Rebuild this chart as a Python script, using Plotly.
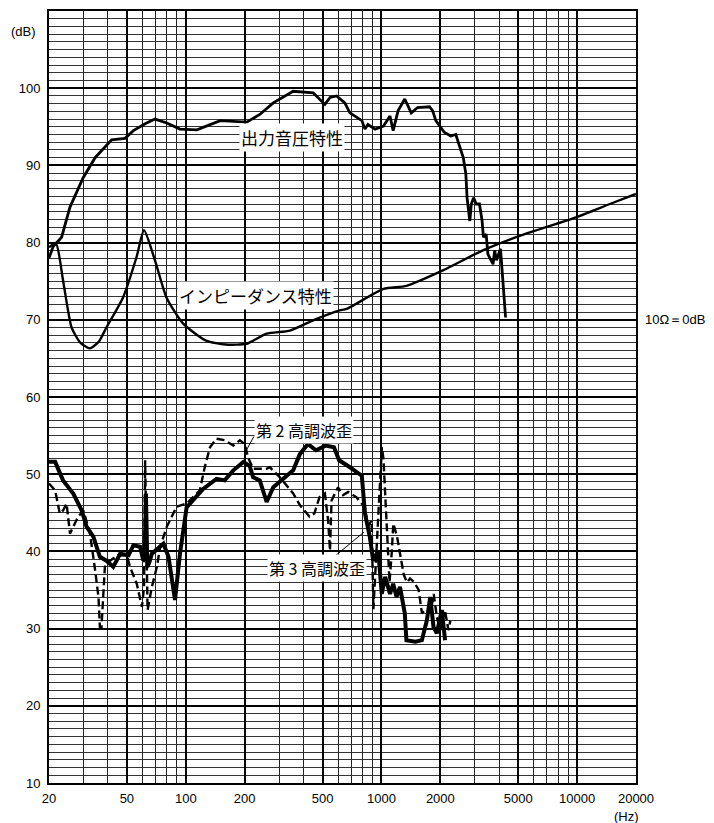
import math
import plotly.graph_objects as go

# ---------------- data ----------------
spl_f = [20, 21, 23.2, 25.6, 29.9, 34.4, 41.8, 48.9, 54, 62, 69.6, 80, 93.4, 114, 150, 205, 239, 280,
         354, 448, 514, 546, 590, 650, 690, 794, 824, 853, 928, 1024, 1106, 1148, 1217, 1316, 1420,
         1531, 1760, 1826, 1897, 2094, 2260, 2400, 2455, 2620, 2700, 2740, 2830, 2880, 2960, 3050,
         3170, 3270, 3320, 3430, 3500, 3720, 3790, 3870, 4060, 4190, 4310]
spl_db = [78.0, 79.5, 80.7, 84.6, 88.4, 91.0, 93.3, 93.5, 94.5, 95.4, 96.0, 95.5, 94.7, 94.6, 95.8, 95.6,
          96.6, 98.1, 99.6, 99.4, 97.9, 98.8, 99.0, 98.1, 96.8, 95.8, 94.7, 95.3, 94.7, 95.1, 96.4, 94.5,
          97.1, 98.6, 96.8, 97.5, 97.6, 97.1, 95.8, 94.3, 93.8, 94.0, 93.2, 91.0, 88.9, 85.8, 82.8, 85.0,
          85.8, 85.0, 85.0, 82.8, 80.7, 81.1, 78.5, 77.2, 79.0, 77.7, 79.2, 74.6, 70.3]

imp_f = [20, 21.7, 23.6, 26.1, 29, 32.4, 36, 39.3, 47.8, 56, 61.2, 69.6, 79.7, 97, 127, 160, 205, 259,
         341, 463, 608, 664, 1024, 1342, 2060, 3300, 5130, 9940, 14700, 20000]
imp_db = [79.4, 79.9, 75.1, 69.0, 67.0, 66.3, 67.2, 69.0, 72.9, 78.1, 81.6, 77.7, 72.9, 69.5, 67.3, 66.8,
          66.9, 68.2, 68.6, 70.1, 71.2, 71.4, 74.0, 74.4, 76.4, 79.0, 80.9, 83.3, 85.0, 86.3]

h3_f = [20, 21.5, 23.6, 26.6, 29.4, 31.1, 33.7, 36.4, 39.3, 42.6, 46.2, 51, 54, 58.4, 60.7, 61.8, 62.6,
        63.6, 65, 67.1, 76.9, 81.6, 88.1, 93.4, 101, 122.7, 143.5, 158, 175, 197, 212, 221, 239, 259,
        280, 316, 354, 383, 421, 463, 519, 572, 608, 690, 746, 794, 824, 872, 908, 963, 1004, 1045,
        1106, 1148, 1195, 1244, 1316, 1342, 1493, 1610, 1708, 1776, 1846, 1920, 2034, 2115]
h3_db = [51.6, 51.6, 49.2, 47.5, 45.3, 43.2, 41.9, 39.3, 38.8, 38.0, 39.7, 39.5, 40.8, 40.6, 38.8, 40.0,
         47.5, 38.0, 38.5, 39.7, 41.0, 39.3, 33.7, 39.7, 45.7, 48.1, 49.4, 49.2, 50.5, 51.6, 51.1, 49.6,
         49.2, 46.4, 48.3, 49.4, 50.5, 52.6, 53.9, 53.1, 53.7, 53.5, 51.8, 50.9, 50.3, 49.8, 44.9, 41.9,
         38.8, 40.1, 34.5, 36.7, 34.5, 35.8, 34.1, 35.4, 32.0, 28.5, 28.3, 28.5, 31.1, 34.1, 30.2, 29.4,
         32.4, 28.5]

h2_f = [20, 21.5, 22.7, 23.6, 24.6, 25.6, 26.6, 28.2, 30, 32.4, 34.4, 35.8, 36.4, 37.1, 38.6, 41, 45,
        50, 51.9, 56.2, 59.7, 61.2, 62, 63.8, 67.1, 71.2, 74, 80, 89.8, 101, 118, 125, 133, 143.5, 158,
        175, 189, 200, 208, 221, 244, 259, 269, 280, 303, 354, 383, 429, 454, 482, 514, 534, 546, 556,
        600, 637, 676, 746, 824, 853, 890, 910, 935, 965, 985, 1005, 1024, 1050, 1080, 1100, 1130,
        1150, 1200, 1250, 1300, 1350, 1400, 1470, 1550, 1610, 1700, 1780, 1850, 1920, 2000, 2110,
        2200, 2250]
h2_db = [48.8, 47.9, 44.9, 45.3, 46.2, 42.3, 43.2, 44.5, 45.3, 42.3, 37.6, 34.1, 30.2, 30.2, 38.0, 38.8,
         39.5, 39.5, 38.0, 35.8, 32.8, 35.4, 51.8, 32.4, 35.4, 38.0, 40.6, 43.2, 45.8, 46.2, 47.9, 50.9,
         53.5, 54.6, 54.4, 53.7, 54.4, 53.9, 52.2, 50.7, 50.7, 50.7, 50.9, 50.5, 49.6, 47.5, 46.0, 44.5,
         44.9, 47.0, 47.5, 44.0, 40.1, 46.6, 48.3, 47.3, 47.7, 47.0, 45.7, 43.2, 44.0, 32.5, 38.0, 45.5,
         50.0, 53.5, 52.0, 46.0, 40.0, 36.0, 40.0, 43.6, 42.0, 39.5, 37.0, 36.0, 36.5, 36.0, 35.0, 32.0,
         32.5, 32.0, 34.5, 31.5, 29.8, 32.4, 29.8, 31.0]

# pointer lines for the harmonic labels (freq, dB)
ptr2_f = [223, 201]
ptr2_db = [54.9, 52.8]
ptr3_f = [580, 814]
ptr3_db = [39.4, 42.5]

x_label_vals = [20, 50, 100, 200, 500, 1000, 2000, 5000, 10000, 20000]
x_label_text = ["20", "50", "100", "200", "500", "1000", "2000", "5000", "10000", "20000"]
x_minor_vals = [m * d for d in (10, 100, 1000, 10000) for m in range(1, 10) if 20 <= m * d <= 20000] + [20000]
y_label_vals = [10, 20, 30, 40, 50, 60, 70, 80, 90, 100]

# ---------------- figure ----------------
fig = go.Figure()
fig.add_trace(go.Scatter(x=imp_f, y=imp_db, mode="lines",
                         line=dict(color="black", width=2.4, shape="spline", smoothing=0.6)))
fig.add_trace(go.Scatter(x=spl_f, y=spl_db, mode="lines",
                         line=dict(color="black", width=2.8)))
fig.add_trace(go.Scatter(x=h2_f, y=h2_db, mode="lines",
                         line=dict(color="black", width=2.4, dash="8px,4px")))
fig.add_trace(go.Scatter(x=h3_f, y=h3_db, mode="lines",
                         line=dict(color="black", width=4)))
fig.add_trace(go.Scatter(x=ptr2_f, y=ptr2_db, mode="lines", line=dict(color="black", width=1)))
fig.add_trace(go.Scatter(x=ptr3_f, y=ptr3_db, mode="lines", line=dict(color="black", width=1)))

cjk = "Noto Sans CJK JP"
tickfont = dict(family="Liberation Sans, Arial, sans-serif", size=13, color="black")

def lab(text, f, db, size):
    fig.add_annotation(x=math.log10(f), y=db, xref="x", yref="y", text=text, showarrow=False,
                       font=dict(family=cjk, size=size, color="black"), bgcolor="white",
                       borderpad=1)

lab("出力音圧特性", 351, 93.6, 17)
lab("インピーダンス特性", 228, 73.1, 17)
lab("第 2 高調波歪", 404, 55.7, 16)
lab("第 3 高調波歪", 470, 37.9, 16)

fig.add_annotation(x=-0.043, y=0.973, xref="paper", yref="paper", text="(dB)", showarrow=False,
                   font=tickfont, xanchor="center", yanchor="middle")
fig.add_annotation(x=0.983, y=-0.043, xref="paper", yref="paper", text="(Hz)", showarrow=False,
                   font=tickfont, xanchor="center", yanchor="middle")
fig.add_annotation(x=1.012, y=70, xref="paper", yref="y", text="10Ω＝0dB", showarrow=False,
                   font=tickfont, xanchor="left", yanchor="middle")

fig.update_layout(
    width=714, height=823,
    margin=dict(l=49, r=78, t=9, b=40),
    paper_bgcolor="white", plot_bgcolor="white",
    showlegend=False,
    xaxis=dict(type="log", range=[math.log10(20), math.log10(20000)],
               tickmode="array", tickvals=x_label_vals, ticktext=x_label_text,
               tickfont=tickfont, ticks="", ticklabelstandoff=2,
               showgrid=True, gridcolor="black", gridwidth=1.6,
               minor=dict(tickmode="array", tickvals=x_minor_vals, showgrid=True,
                          gridcolor="#222", gridwidth=0.9, ticks=""),
               showline=True, mirror=True, linecolor="black", linewidth=2, zeroline=False),
    yaxis=dict(range=[10, 110], tickmode="array", tickvals=y_label_vals,
               tickfont=tickfont, ticks="", ticklabelstandoff=4,
               showgrid=True, gridcolor="black", gridwidth=1.6,
               minor=dict(dtick=1, showgrid=True, gridcolor="#333", gridwidth=0.8, ticks=""),
               showline=True, mirror=True, linecolor="black", linewidth=2, zeroline=False),
)

fig.write_html("out.html", config={"displayModeBar": False},
               post_script="document.body.style.margin='0';document.body.style.overflow='hidden';")
